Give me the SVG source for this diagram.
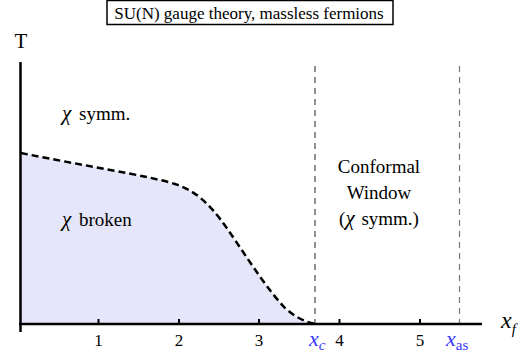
<svg xmlns="http://www.w3.org/2000/svg" width="524" height="360" viewBox="0 0 524 360" font-family="'Liberation Serif', 'Times New Roman', serif">
<style>
text{font-family:'Liberation Serif','Times New Roman',serif;fill:#000}
.lbl{font-size:19px}
.tick{font-size:17px;text-anchor:middle}
.blue{fill:#3838ff}
.it{font-style:italic}
</style>
<rect width="524" height="360" fill="#fff"/>
<g id="title">
<rect x="107" y="0.5" width="286" height="24" fill="#fff" stroke="#000" stroke-width="1.5"/>
<text x="249" y="18.5" font-size="17" text-anchor="middle">SU(N) gauge theory, massless fermions</text>
</g>
<g id="broken-region">
<path d="M21,153 C80,165 150,176 175,184 C200,192 215,210 235,240 C252,265 268,290 285,308 C295,317 305,322 315,324 L21,324 Z" fill="#e6e6fa"/>
</g>
<g id="connectors">
<line x1="315" y1="66" x2="315" y2="324" stroke="#222" stroke-width="1" stroke-dasharray="6,5"/>
<line x1="459.5" y1="66" x2="459.5" y2="324" stroke="#777" stroke-width="1.2" stroke-dasharray="6,5"/>
<path d="M21,153 C80,165 150,176 175,184 C200,192 215,210 235,240 C252,265 268,290 285,308 C295,317 305,322 315,324" fill="none" stroke="#000" stroke-width="2.5" stroke-dasharray="7,4"/>
<line x1="20.5" y1="62" x2="20.5" y2="332" stroke="#000" stroke-width="2.5"/>
<line x1="19" y1="324" x2="482" y2="324" stroke="#000" stroke-width="2.5"/>
<g stroke="#000" stroke-width="2">
<line x1="98.5" y1="319" x2="98.5" y2="324"/>
<line x1="179" y1="319" x2="179" y2="324"/>
<line x1="259" y1="319" x2="259" y2="324"/>
<line x1="339.5" y1="319" x2="339.5" y2="324"/>
<line x1="420" y1="319" x2="420" y2="324"/>
</g>
</g>
<g id="axis-labels">
<text x="21" y="48" font-size="21" text-anchor="middle">T</text>
<text x="501" y="328" font-size="24" class="it">x<tspan font-size="15" dy="6">f</tspan></text>
<text class="tick" x="98.5" y="346">1</text>
<text class="tick" x="179" y="346">2</text>
<text class="tick" x="259" y="346">3</text>
<text class="tick" x="339.5" y="346">4</text>
<text class="tick" x="420" y="346">5</text>
<text class="blue it" x="309" y="346" font-size="22">x<tspan font-size="15" dy="4">c</tspan></text>
<text class="blue" x="446" y="346" font-size="22"><tspan class="it">x</tspan><tspan font-size="15" dy="4">as</tspan></text>
</g>
<g id="symm-label">
<text class="lbl" x="62" y="120"><tspan class="it" font-size="21">χ</tspan><tspan dx="3"> symm.</tspan></text>
</g>
<g id="broken-label">
<text class="lbl" x="62" y="226"><tspan class="it" font-size="21">χ</tspan><tspan dx="3"> broken</tspan></text>
</g>
<g id="conformal-label">
<text class="lbl" x="379" y="173" text-anchor="middle">Conformal</text>
<text class="lbl" x="379" y="199" text-anchor="middle">Window</text>
<text class="lbl" x="379" y="225" text-anchor="middle">(<tspan class="it" font-size="21">χ</tspan><tspan dx="2"> symm.)</tspan></text>
</g>
</svg>
